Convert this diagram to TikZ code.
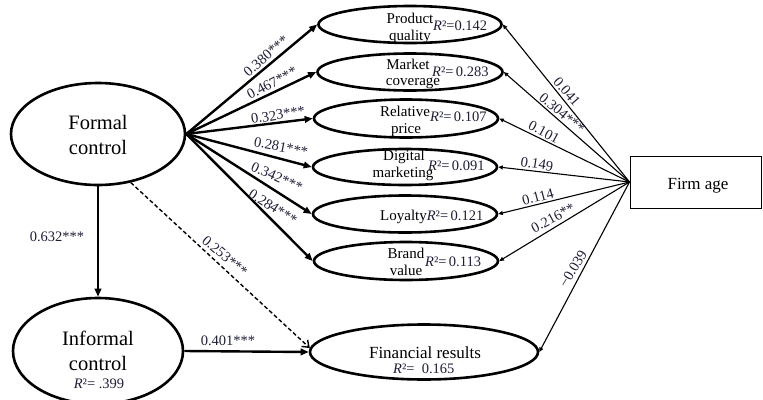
\documentclass[tikz,border=0pt]{standalone}
\usepackage{fontspec}
\setmainfont{Liberation Serif}
\usetikzlibrary{shapes.geometric,arrows.meta}
\definecolor{labcol}{RGB}{30,30,55}
\begin{document}
\begin{tikzpicture}[x=1pt,y=-1pt,
  ell/.style={draw, ellipse, line width=2.6pt, inner sep=0pt},
  big/.style={font=\fontsize{20.5}{24}\selectfont, anchor=base, inner sep=0pt},
  mid/.style={font=\fontsize{15}{17}\selectfont, anchor=base, inner sep=0pt},
  rsq/.style={font=\fontsize{14.5}{17}\selectfont, anchor=base west, inner sep=0pt, text=labcol},
  lab/.style={font=\fontsize{14.5}{17}\selectfont, inner sep=0pt, text=labcol},
  fcarrow/.style={line width=2.4pt, -{Triangle[length=8pt,width=6.5pt]}},
  agearrow/.style={line width=1.1pt, -{Triangle[length=4.5pt,width=4pt]}},
  dasharrow/.style={line width=1.4pt, dash pattern=on 4pt off 2.5pt, -{Straight Barb[length=6pt,width=9pt]}},
]
\useasboundingbox (0,0) rectangle (763,399);

% ellipses
\node[ell, minimum width=174pt, minimum height=102pt] (formal) at (98,134) {};
\node[ell, minimum width=170pt, minimum height=106pt] (informal) at (98,351) {};
\node[ell, minimum width=183pt, minimum height=37pt] (pq) at (410,24.5) {};
\node[ell, minimum width=185pt, minimum height=37pt] (mc) at (410,72) {};
\node[ell, minimum width=184pt, minimum height=38pt] (rp) at (406,118.5) {};
\node[ell, minimum width=184pt, minimum height=36pt] (dm) at (405,167) {};
\node[ell, minimum width=184pt, minimum height=37pt] (ly) at (405,214) {};
\node[ell, minimum width=184pt, minimum height=38pt] (bv) at (406,261) {};
\node[ell, minimum width=228pt, minimum height=55pt] (fr) at (424,352) {};
\node[draw, line width=1pt, minimum width=131pt, minimum height=52pt, inner sep=0pt] (age) at (695.5,182) {};

% texts
\node[big] (formalA) at (98,129) {Formal};
\node[big] (formalB) at (98,154) {control};
\node[big] (informalA) at (98,345) {Informal};
\node[big] (informalB) at (98,370) {control};
\node[rsq, anchor=base] (informalR) at (99,388) {\textit{R}²= .399};

\node[mid] (pqA) at (410,23) {Product};
\node[mid] (pqB) at (410,40) {quality};
\node[rsq] (pqR) at (433,30) {\textit{R}²=0.142};

\node[mid] (mcA) at (408,69) {Market};
\node[mid] (mcB) at (413,85) {coverage};
\node[rsq] (mcR) at (432,76) {\textit{R}²=\,0.283};

\node[mid] (rpA) at (405,116) {Relative};
\node[mid] (rpB) at (406,133) {price};
\node[rsq] (rpR) at (430,121) {\textit{R}²=\,0.107};

\node[mid] (dmA) at (404,160) {Digital};
\node[mid] (dmB) at (403,177) {marketing};
\node[rsq] (dmR) at (428,170) {\textit{R}²=\,0.091};

\node[mid, anchor=base west] (lyA) at (380,220) {Loyalty\fontsize{14.5}{17}\selectfont\color{labcol}\textit{R}²=\,0.121};

\node[mid] (bvA) at (406,258) {Brand};
\node[mid] (bvB) at (406,275) {value};
\node[rsq] (bvR) at (425,266) {\textit{R}²=\,0.113};

\node[font=\fontsize{17}{20}\selectfont, anchor=base, inner sep=0pt] (frA) at (425,358) {Financial results};
\node[rsq] (frR) at (393,373) {\textit{R}²=\ \ 0.165};

\node[font=\fontsize{17}{20}\selectfont, anchor=base, inner sep=0pt] (ageA) at (698,189.5) {Firm age};

% formal control paths
\draw[fcarrow] (formal.east) -- (pq.west);
\draw[fcarrow] (formal.east) -- (mc.west);
\draw[fcarrow] (formal.east) -- (rp.west);
\draw[fcarrow] (formal.east) -- (dm.west);
\draw[fcarrow] (formal.east) -- (ly.west);
\draw[fcarrow] (formal.east) -- (bv.west);
\draw[fcarrow] (formal.south) -- (informal.north);
\draw[fcarrow] (informal.east) -- (fr.west);
\draw[dasharrow] (formal.-56) -- (fr.178);

% firm age paths
\draw[agearrow] (age.west) -- (pq.east);
\draw[agearrow] (age.west) -- (mc.east);
\draw[agearrow] (age.west) -- (rp.east);
\draw[agearrow] (age.west) -- (dm.east);
\draw[agearrow] (age.west) -- (ly.east);
\draw[agearrow] (age.west) -- (bv.east);
\draw[agearrow] (age.west) -- (fr.east);

% path labels
\node[lab, rotate=41] (l1) at (266,56) {0.380***};
\node[lab, rotate=28] (l2) at (272,83) {0.467***};
\node[lab, rotate=9] (l3) at (278,115) {0.323***};
\node[lab, rotate=-11] (l4) at (281,147) {0.281***};
\node[lab, rotate=-24] (l5) at (277,177) {0.342***};
\node[lab, rotate=-33] (l6) at (273,207) {0.284***};
\node[lab, rotate=-40] (l7) at (225,256) {0.253***};
\node[lab] (l8) at (228,341) {0.401***};
\node[lab] (l9) at (57,237) {0.632***};

\node[lab, rotate=-49] (a1) at (567,92) {0.041};
\node[lab, rotate=-40] (a2) at (562,113) {0.304***};
\node[lab, rotate=-28] (a3) at (544,132) {0.101};
\node[lab, rotate=-9] (a4) at (537,164) {0.149};
\node[lab, rotate=15] (a5) at (538,197) {0.114};
\node[lab, rotate=28] (a6) at (553,218) {0.216**};
\node[lab, rotate=59] (a7) at (573,269) {−0.039};
\end{tikzpicture}
\end{document}
